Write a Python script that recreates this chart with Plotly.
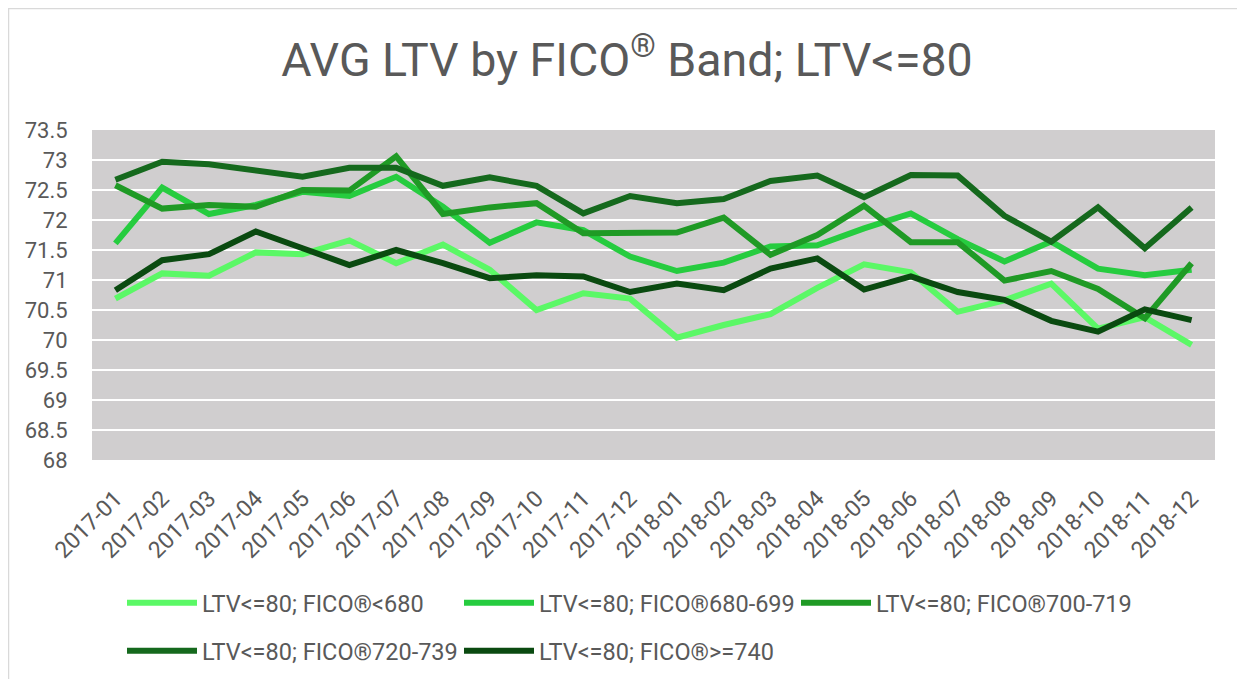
import plotly.graph_objects as go

months = ["2017-01", "2017-02", "2017-03", "2017-04", "2017-05", "2017-06",
          "2017-07", "2017-08", "2017-09", "2017-10", "2017-11", "2017-12",
          "2018-01", "2018-02", "2018-03", "2018-04", "2018-05", "2018-06",
          "2018-07", "2018-08", "2018-09", "2018-10", "2018-11", "2018-12"]

fico_lt680 = [70.69, 71.11, 71.07, 71.46, 71.43, 71.66, 71.28, 71.59, 71.17, 70.50, 70.78, 70.69,
              70.04, 70.25, 70.43, 70.87, 71.26, 71.13, 70.47, 70.66, 70.94, 70.19, 70.38, 69.92]
fico_680_699 = [71.61, 72.54, 72.10, 72.25, 72.47, 72.40, 72.72, 72.22, 71.62, 71.96, 71.83, 71.39,
                71.15, 71.29, 71.56, 71.58, 71.86, 72.11, 71.68, 71.31, 71.64, 71.19, 71.08, 71.17]
fico_700_719 = [72.58, 72.19, 72.25, 72.22, 72.50, 72.49, 73.06, 72.10, 72.21, 72.28, 71.78, 71.78,
                71.79, 72.04, 71.42, 71.75, 72.24, 71.63, 71.63, 70.99, 71.15, 70.85, 70.36, 71.28]
fico_720_739 = [72.67, 72.97, 72.93, 72.83, 72.72, 72.87, 72.87, 72.57, 72.71, 72.57, 72.11, 72.40,
                72.28, 72.35, 72.65, 72.74, 72.38, 72.75, 72.74, 72.07, 71.64, 72.21, 71.53, 72.21]
fico_ge740 = [70.83, 71.33, 71.43, 71.81, 71.53, 71.25, 71.50, 71.28, 71.03, 71.08, 71.06, 70.80,
              70.94, 70.83, 71.19, 71.36, 70.84, 71.06, 70.80, 70.67, 70.32, 70.14, 70.51, 70.33]

series_names = ["LTV<=80; FICO®<680", "LTV<=80; FICO®680-699", "LTV<=80; FICO®700-719",
                "LTV<=80; FICO®720-739", "LTV<=80; FICO®>=740"]
series_values = [fico_lt680, fico_680_699, fico_700_719, fico_720_739, fico_ge740]
series_colors = ["#5BF866", "#26CC3F", "#1F9A25", "#15691D", "#0A4A10"]
series_legend = ["legend", "legend", "legend", "legend2", "legend2"]

y_ticks = [68, 68.5, 69, 69.5, 70, 70.5, 71, 71.5, 72, 72.5, 73, 73.5]
y_tick_labels = ["68", "68.5", "69", "69.5", "70", "70.5", "71", "71.5", "72", "72.5", "73", "73.5"]

FONT = "Roboto, sans-serif"
GREY = "#595959"

fig = go.Figure()
for name, vals, col, lg in zip(series_names, series_values, series_colors, series_legend):
    fig.add_trace(go.Scatter(x=months, y=vals, mode="lines", name=name,
                             line=dict(color=col, width=6), legend=lg))

# page body has an 8px margin, so the figure is drawn 8px smaller and offset
OFF = 8
SW, SH = 1245, 679
W, H = SW - OFF, SH - OFF
PL, PR, PT, PB = 92, 1215, 130, 460  # plot area in screen pixels
L, R, T, B = PL - OFF, SW - PR, PT - OFF, SH - PB
pw, ph = PR - PL, PB - PT

def px(x):
    return (x - PL) / pw

def py(y):
    return (PB - y) / ph

legend_common = dict(orientation="h", xanchor="left", yanchor="middle",
                     font=dict(size=23.5, color=GREY, family=FONT), entrywidth=252,
                     entrywidthmode="pixels", itemwidth=70, bgcolor="rgba(0,0,0,0)",
                     tracegroupgap=0)

fig.update_layout(
    width=W, height=H,
    margin=dict(l=L, r=R, t=T, b=B, autoexpand=False),
    paper_bgcolor="white",
    plot_bgcolor="#D0CECF",
    font=dict(family=FONT, color=GREY),
    title=dict(text="AVG LTV by FICO<sup>®</sup> Band; LTV<=80", x=(627 - OFF) / W, xref="container",
               xanchor="center", y=1 - (60 - OFF) / H, yanchor="middle",
               font=dict(size=46.5, color=GREY, family=FONT)),
    xaxis=dict(type="category", range=[-0.5, 23.5], showgrid=False, zeroline=False,
               tickangle=-45, tickfont=dict(size=23, color=GREY, family=FONT), automargin=False,
               ticks="outside", ticklen=15, tickcolor="rgba(0,0,0,0)", showline=False),
    yaxis=dict(range=[68, 73.5], tickvals=y_ticks, ticktext=y_tick_labels, automargin=False,
               showgrid=True, gridcolor="white", gridwidth=2, zeroline=False,
               tickfont=dict(size=22, color=GREY, family=FONT),
               ticks="outside", ticklen=19, tickcolor="rgba(0,0,0,0)"),
    legend=dict(x=px(122), y=py(603), **legend_common),
    legend2=dict(x=px(122), y=py(651), **legend_common),
    shapes=[dict(type="rect", xref="paper", yref="paper", x0=px(OFF + 0.5), x1=px(1260),
                 y0=py(700), y1=py(OFF + 0.5),
                 line=dict(color="#D9D9D9", width=1.5), fillcolor="rgba(0,0,0,0)", layer="below")],
    showlegend=True,
)

fig.write_html("out.html")
